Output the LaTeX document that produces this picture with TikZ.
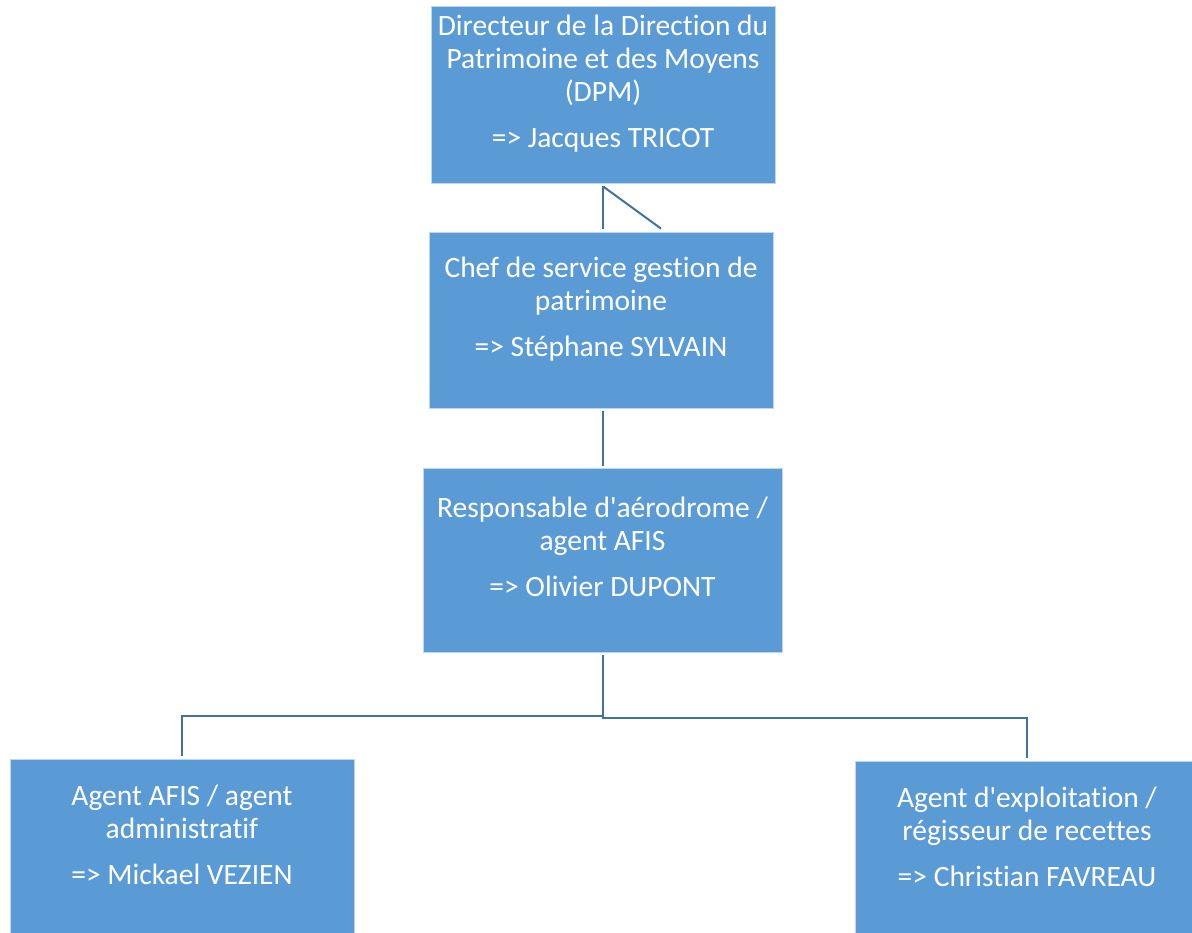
\documentclass[tikz,border=0pt]{standalone}
\usepackage{fontspec}
\setmainfont{Carlito}[Ligatures=NoCommon]
\usepackage{xcolor}
\usetikzlibrary{positioning,calc}

\definecolor{boxblue}{HTML}{5B9BD5}
\definecolor{linkblue}{HTML}{41719C}

\tikzset{
    box/.style={fill=boxblue, draw=white!60!boxblue, line width=0.8pt, minimum width=344pt, minimum height=177pt, inner sep=0pt},
    boxtext/.style={text=white, align=center, inner sep=0pt, font=\fontsize{29.5}{33}\selectfont},
    link/.style={draw=linkblue, line width=2pt}
}

\begin{document}
\begin{tikzpicture}[x=1pt, y=-1pt]
    \useasboundingbox (0,0) rectangle (1192,933);
    \clip (0,0) rectangle (1192,933);

    % Boxes
    \node[box] (dpm) at (603,94.5) {};
    \node[box, minimum height=176pt] (chef) at (601,320) {};
    \node[box, minimum width=359pt, minimum height=184pt] (resp) at (602.5,560) {};
    \node[box] (afis) at (182,847.5) {};
    \node[box] (regie) at (1027,849.5) {};

    % Texts
    \node[boxtext] (dpmtxt) at ([yshift=9.5pt]dpm.center)
        {\strut Directeur de la Direction du\\ Patrimoine et des Moyens\\ (DPM)\\[13pt] => Jacques TRICOT\strut};
    \node[boxtext] (cheftxt) at ([yshift=9.5pt]chef.center)
        {\strut Chef de service gestion de\\ patrimoine\\[13pt] => Stéphane SYLVAIN\strut};
    \node[boxtext] (resptxt) at ([yshift=9.5pt]resp.center)
        {\strut Responsable d\textquotesingle aérodrome /\\ agent AFIS\\[13pt] => Olivier DUPONT\strut};
    \node[boxtext] (afistxt) at ([yshift=9.5pt]afis.center)
        {\strut Agent AFIS / agent\\ administratif\\[13pt] => Mickael VEZIEN\strut};
    \node[boxtext] (regietxt) at ([yshift=9.5pt]regie.center)
        {\strut Agent d\textquotesingle exploitation /\\ régisseur de recettes\\[13pt] => Christian FAVREAU\strut};

    % Connectors
    \draw[link] ([yshift=-3pt]dpm.south) -- ([yshift=3pt]dpm.south |- chef.north);
    \draw[link] ([yshift=-3pt]dpm.south) -- ([xshift=58pt,yshift=3pt]dpm.south |- chef.north);
    \draw[link] ([yshift=-3pt]chef.south -| dpm.south) -- ([yshift=2pt]resp.north -| dpm.south);
    \draw[link] ([yshift=-3pt]resp.south) |- ([yshift=43pt]afis.north) -- ([yshift=3pt]afis.north);
    \draw[link] ([yshift=-3pt]resp.south) |- ([yshift=43pt]regie.north) -- ([yshift=3pt]regie.north);
\end{tikzpicture}
\end{document}
